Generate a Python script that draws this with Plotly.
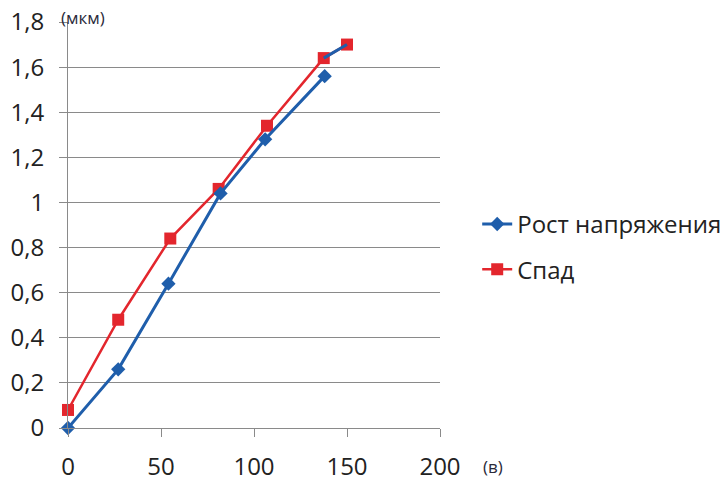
import plotly.graph_objects as go

# Data
rise_x = [0, 27, 54, 82, 106, 138]
rise_y = [0.0, 0.26, 0.64, 1.04, 1.28, 1.56]
fall_x = [0, 27, 55, 81, 107, 137.5, 150]
fall_y = [0.08, 0.48, 0.84, 1.06, 1.34, 1.64, 1.70]
series_names = ["Рост напряжения", "Спад"]
y_tick_vals = [0, 0.2, 0.4, 0.6, 0.8, 1.0, 1.2, 1.4, 1.6, 1.8]
y_tick_text = ["0", "0,2", "0,4", "0,6", "0,8", "1", "1,2", "1,4", "1,6", "1,8"]
x_tick_vals = [0, 50, 100, 150, 200]
y_unit = "(мкм)"
x_unit = "(в)"

BLUE = "#1f5eab"
RED = "#e3262d"
GRID = "#8a8a8a"
FONT = "Open Sans"

fig = go.Figure()
fig.add_trace(go.Scatter(
    x=fall_x, y=fall_y, name=series_names[1], mode="lines+markers",
    line=dict(color=RED, width=2.5),
    marker=dict(symbol="square", size=12, color=RED),
    cliponaxis=False, legendrank=2, legendgroup="b",
))
fig.add_trace(go.Scatter(
    x=rise_x, y=rise_y, name=series_names[0], mode="lines+markers",
    line=dict(color=BLUE, width=3),
    marker=dict(symbol="diamond", size=11, color=BLUE),
    cliponaxis=False, legendrank=1, legendgroup="a",
))
# blue segment visible between the last two red squares in the reference
fig.add_trace(go.Scatter(
    x=fall_x[-2:], y=fall_y[-2:], mode="lines",
    line=dict(color=BLUE, width=3), showlegend=False, hoverinfo="skip",
    cliponaxis=False,
))

fig.update_layout(
    width=725, height=479,
    margin=dict(l=68, r=285, t=22, b=51, autoexpand=False),
    paper_bgcolor="white", plot_bgcolor="white",
    font=dict(family=FONT, size=24, color="#222222"),
    legend=dict(
        x=1.10, y=0.446, xanchor="left", yanchor="middle",
        traceorder="grouped", tracegroupgap=11,
        font=dict(family=FONT, size=24, color="#222222"),
        itemwidth=30, bgcolor="rgba(0,0,0,0)",
    ),
    xaxis=dict(
        range=[0, 200], tickvals=x_tick_vals, showgrid=False,
        showline=True, linecolor=GRID, linewidth=1,
        ticks="outside", ticklen=8, tickcolor=GRID,
        tickfont=dict(size=24), zeroline=False, fixedrange=True,
        automargin=False, ticklabelstandoff=9,
    ),
    yaxis=dict(
        range=[0, 1.8], tickvals=y_tick_vals, ticktext=y_tick_text,
        showgrid=True, gridcolor=GRID, gridwidth=1,
        showline=True, linecolor=GRID, linewidth=1,
        ticks="outside", ticklen=8, tickcolor=GRID,
        tickfont=dict(size=24), zeroline=False, fixedrange=True,
        automargin=False, ticklabelstandoff=10,
    ),
    annotations=[
        dict(text=y_unit, xref="paper", yref="paper", x=-0.025, y=1.01,
             xanchor="left", yanchor="middle", showarrow=False,
             font=dict(family=FONT, size=17, color="#2a2a3a")),
        dict(text=x_unit, xref="paper", yref="paper", x=1.11, y=-0.095,
             xanchor="left", yanchor="middle", showarrow=False,
             font=dict(family=FONT, size=17, color="#2a2a3a")),
    ],
)

fig.write_html("out.html", config={"displayModeBar": False},
               post_script="document.body.style.margin='0px';")
